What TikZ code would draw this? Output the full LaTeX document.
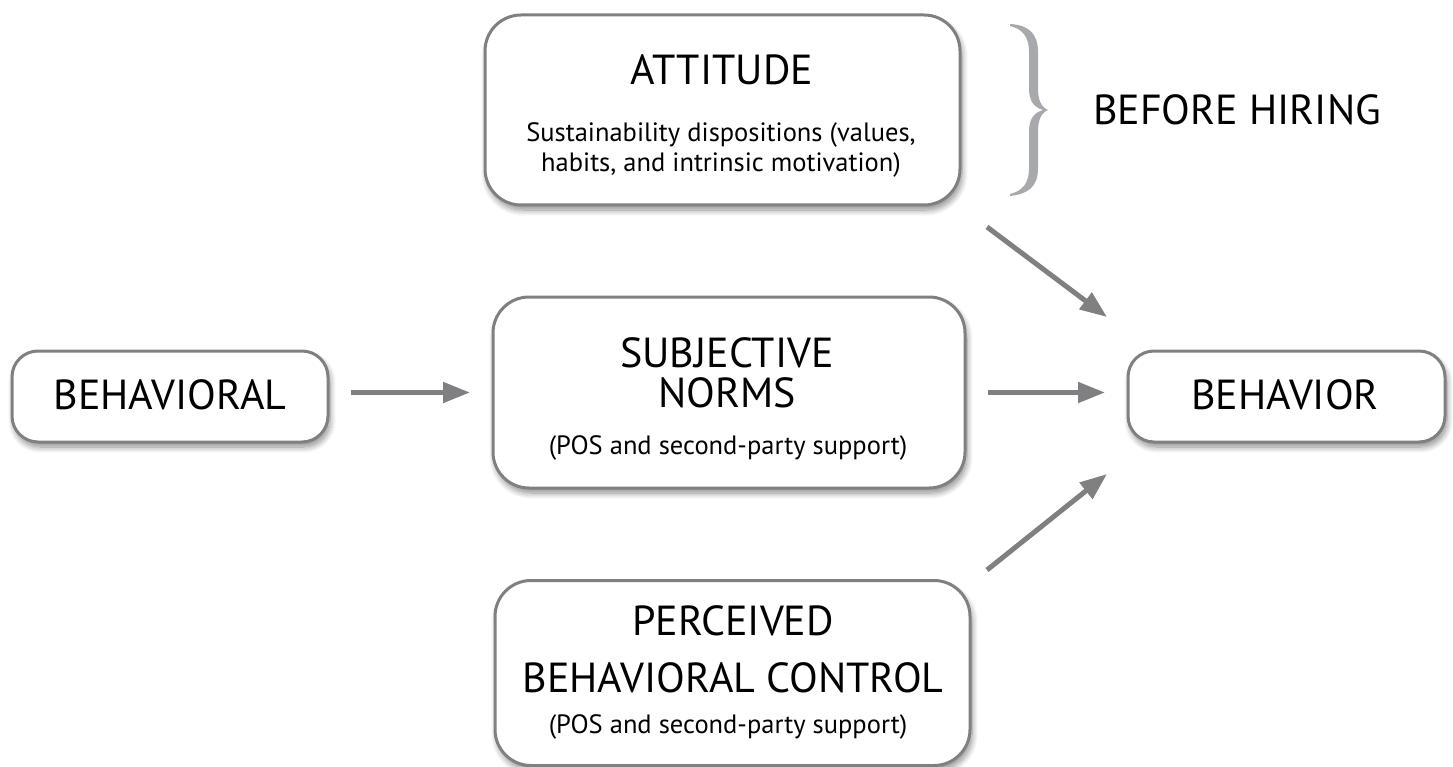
\documentclass[tikz,border=0pt]{standalone}
\usepackage{fontspec}
\setmainfont{PT Sans}
\usetikzlibrary{arrows.meta,shadows.blur}
\definecolor{boxline}{RGB}{128,128,131}
\definecolor{arrowgray}{RGB}{128,128,131}
\definecolor{bracegray}{RGB}{167,169,172}
\tikzset{
  box/.style={draw=boxline, line width=3pt, fill=white, rectangle, outer sep=0pt, inner sep=0pt,
    blur shadow={shadow xshift=2pt, shadow yshift=-5pt, shadow blur radius=6pt, shadow blur steps=10, shadow opacity=45}},
  bigbox/.style={box, rounded corners=36pt},
  smallbox/.style={box, rounded corners=26pt},
  title/.style={font=\fontsize{42}{42}\selectfont, anchor=base, inner sep=0pt, text height=30pt, text depth=2pt},
  sub/.style={font=\fontsize{26.5}{26.5}\selectfont, anchor=base, inner sep=0pt, text height=20pt, text depth=5pt},
  arr/.style={draw=arrowgray, line width=5pt, -{Triangle[length=27pt, width=20pt]}}
}
\begin{document}
\begin{tikzpicture}[x=1pt,y=-1pt]
\useasboundingbox (0,0) rectangle (1453,767);
% boxes
\node[bigbox, minimum width=475pt, minimum height=190pt] (att) at (722.5,110) {};
\node[smallbox, minimum width=316pt, minimum height=91pt] (bvl) at (170,396.5) {};
\node[bigbox, minimum width=472pt, minimum height=191pt] (subj) at (729,392.5) {};
\node[bigbox, minimum width=475pt, minimum height=185pt] (perc) at (732.5,673) {};
\node[smallbox, minimum width=317pt, minimum height=91pt] (beh) at (1286.5,396.5) {};
% texts
\node[title] (attT) at (722,85) {ATTITUDE};
\node[sub] (attS1) at (721,142) {Sustainability dispositions (values,};
\node[sub] (attS2) at (721,172) {habits, and intrinsic motivation)};
\node[title] (bvlT) at (170,409) {BEHAVIORAL};
\node[title] (subjT1) at (727,367) {SUBJECTIVE};
\node[title] (subjT2) at (727,407) {NORMS};
\node[sub] (subjS) at (728,454) {(POS and second-party support)};
\node[title] (percT1) at (733,635) {PERCEIVED};
\node[title] (percT2) at (733,692) {BEHAVIORAL CONTROL};
\node[sub] (percS) at (728,733) {(POS and second-party support)};
\node[title] (behT) at (1285,409) {BEHAVIOR};
\node[title, anchor=base west] (hire) at (1093,125) {BEFORE HIRING};
% brace
\fill[bracegray] (1010,24) .. controls (1028,25) and (1038,33) .. (1038,52)
  -- (1038,88) .. controls (1038,100) and (1041,107) .. (1048,110)
  .. controls (1041,113) and (1038,120) .. (1038,132)
  -- (1038,168) .. controls (1038,187) and (1028,194) .. (1010,196)
  -- (1010,194) .. controls (1022,191) and (1029,184) .. (1029,168)
  -- (1029,132) .. controls (1029,120) and (1033,113) .. (1043,110)
  .. controls (1033,107) and (1029,100) .. (1029,88)
  -- (1029,52) .. controls (1029,36) and (1022,29) .. (1010,26) -- cycle;
% arrows
\draw[arr, shorten <=23pt, shorten >=23pt] (bvl.east |- subj.west) -- (subj.west);
\draw[arr, shorten <=23pt, shorten >=23pt] (subj.east) -- (beh.west |- subj.east);
\coordinate (a3s) at (987,227);
\coordinate (a3e) at (1107,317);
\coordinate (a4s) at (987,570);
\coordinate (a4e) at (1107,474);
\draw[arr] (a3s) -- (a3e);
\draw[arr] (a4s) -- (a4e);
\end{tikzpicture}
\end{document}
